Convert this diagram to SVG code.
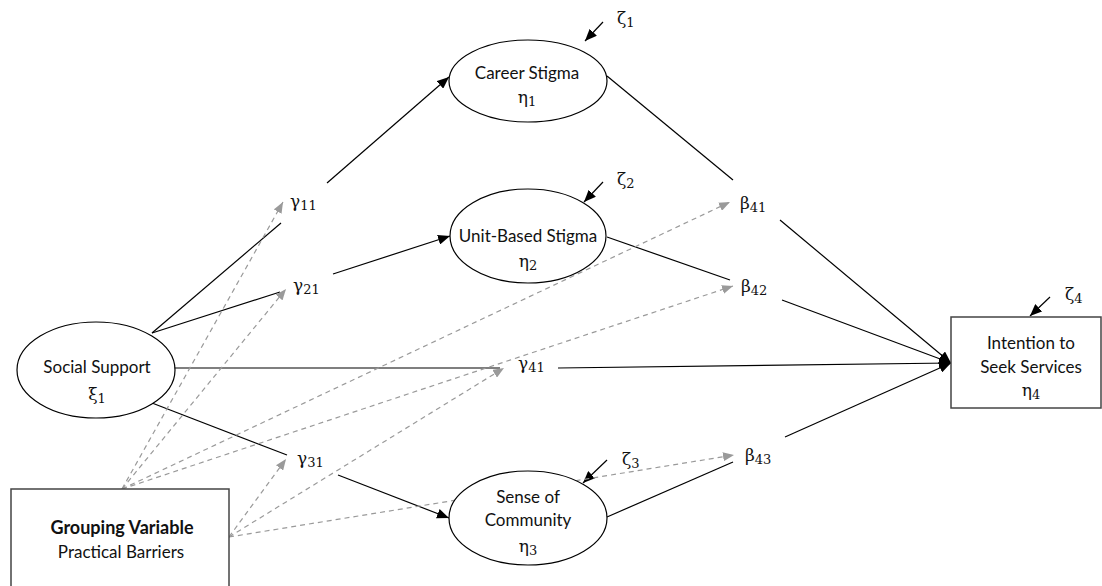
<svg xmlns="http://www.w3.org/2000/svg" width="1102" height="586" viewBox="0 0 1102 586">
<style>
.node{fill:#fff;stroke:#000;stroke-width:1.2}
.box{fill:#fff;stroke:#444;stroke-width:1.5}
.t{font-family:Lato,"Open Sans",sans-serif;font-size:17px;fill:#111;text-anchor:middle}
.b{font-weight:bold;font-size:18px}
.g{font-family:"DejaVu Serif","Liberation Serif",serif;font-size:17px;fill:#111}
.s{font-size:13px}
.solid{stroke:#000;stroke-width:1.2;fill:none}
.arr{marker-end:url(#ab)}
.dash{stroke:#9a9a9a;stroke-width:1.2;stroke-dasharray:5,4;fill:none;marker-end:url(#ag)}
</style>
<defs>
<marker id="ab" markerUnits="userSpaceOnUse" markerWidth="12" markerHeight="10" refX="12" refY="5" orient="auto"><path d="M0,0 L12,5 L0,10 z" fill="#000"/></marker>
<marker id="ag" markerUnits="userSpaceOnUse" markerWidth="11" markerHeight="9" refX="11" refY="4.5" orient="auto"><path d="M0,0 L11,4.5 L0,9 z" fill="#9a9a9a"/></marker>
</defs>
<rect width="1102" height="586" fill="#fff"/>
<g id="connectors">
<line class="solid" x1="152" y1="333" x2="281" y2="223"/>
<line class="solid" x1="152" y1="333" x2="280" y2="292"/>
<line class="solid" x1="174" y1="368" x2="500" y2="368"/>
<line class="solid" x1="152" y1="403" x2="287" y2="455"/>
<line class="solid arr" x1="327" y1="183" x2="449" y2="77"/>
<line class="solid arr" x1="333" y1="274" x2="450" y2="236"/>
<line class="solid arr" x1="338" y1="475" x2="449" y2="518"/>
<line class="solid arr" x1="558" y1="368" x2="951" y2="363"/>
<line class="solid" x1="607" y1="76" x2="733" y2="180"/>
<line class="solid" x1="607" y1="237" x2="730" y2="280"/>
<line class="solid" x1="607" y1="517" x2="733" y2="462"/>
<line class="solid arr" x1="780" y1="220" x2="951" y2="363"/>
<line class="solid arr" x1="782" y1="300" x2="951" y2="363"/>
<line class="solid arr" x1="785" y1="437" x2="951" y2="363"/>
<line class="solid arr" x1="603" y1="22" x2="585" y2="41"/>
<line class="solid arr" x1="603" y1="182" x2="584" y2="202"/>
<line class="solid arr" x1="607" y1="460" x2="583" y2="483"/>
<line class="solid arr" x1="1050" y1="297" x2="1030" y2="316"/>
<line class="dash" x1="122" y1="489" x2="283" y2="202"/>
<line class="dash" x1="122" y1="489" x2="286" y2="289"/>
<line class="dash" x1="122" y1="489" x2="730" y2="202"/>
<line class="dash" x1="122" y1="489" x2="733" y2="286"/>
<line class="dash" x1="229" y1="537" x2="286" y2="459"/>
<line class="dash" x1="229" y1="537" x2="504" y2="368"/>
<line class="dash" x1="229" y1="537" x2="734" y2="455"/>
</g>
<g id="career-stigma">
<ellipse class="node" cx="528" cy="81" rx="79" ry="41"/>
<text class="t" x="527" y="79">Career Stigma</text>
<text class="g" x="527" y="103" text-anchor="middle">η<tspan class="s" dy="3">1</tspan></text>
</g>
<g id="unit-stigma">
<ellipse class="node" cx="528" cy="236" rx="78" ry="47"/>
<text class="t" x="528" y="242">Unit-Based Stigma</text>
<text class="g" x="528" y="267" text-anchor="middle">η<tspan class="s" dy="3">2</tspan></text>
</g>
<g id="social-support">
<ellipse class="node" cx="96" cy="370" rx="79" ry="48"/>
<text class="t" x="97" y="373">Social Support</text>
<text class="g" x="97" y="400" text-anchor="middle">ξ<tspan class="s" dy="3">1</tspan></text>
</g>
<g id="sense-community">
<ellipse class="node" cx="528" cy="518" rx="79" ry="47"/>
<text class="t" x="528" y="503">Sense of</text>
<text class="t" x="528" y="526">Community</text>
<text class="g" x="528" y="552" text-anchor="middle">η<tspan class="s" dy="3">3</tspan></text>
</g>
<g id="intention">
<rect class="box" x="951" y="317" width="150" height="91"/>
<text class="t" x="1031" y="349">Intention to</text>
<text class="t" x="1031" y="373">Seek Services</text>
<text class="g" x="1031" y="396" text-anchor="middle">η<tspan class="s" dy="3">4</tspan></text>
</g>
<g id="grouping">
<rect class="box" x="11" y="489" width="218" height="100"/>
<text class="t b" x="122" y="534">Grouping Variable</text>
<text class="t" x="121" y="558">Practical Barriers</text>
</g>
<g id="labels">
<text class="g" x="290" y="207">γ<tspan class="s" dy="3">11</tspan></text>
<text class="g" x="293" y="291">γ<tspan class="s" dy="3">21</tspan></text>
<text class="g" x="518" y="369">γ<tspan class="s" dy="3">41</tspan></text>
<text class="g" x="297" y="464">γ<tspan class="s" dy="3">31</tspan></text>
<text class="g" x="740" y="209">β<tspan class="s" dy="3">41</tspan></text>
<text class="g" x="741" y="292">β<tspan class="s" dy="3">42</tspan></text>
<text class="g" x="745" y="461">β<tspan class="s" dy="3">43</tspan></text>
<text class="g" x="617" y="24">ζ<tspan class="s" dy="3">1</tspan></text>
<text class="g" x="617" y="185">ζ<tspan class="s" dy="3">2</tspan></text>
<text class="g" x="622" y="465">ζ<tspan class="s" dy="3">3</tspan></text>
<text class="g" x="1065" y="300">ζ<tspan class="s" dy="3">4</tspan></text>
</g>
</svg>
